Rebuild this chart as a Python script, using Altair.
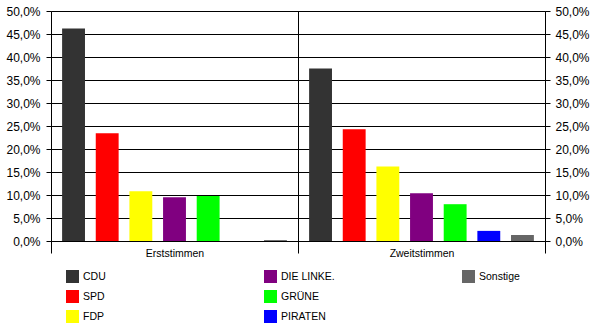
import altair as alt
import pandas as pd

groups = ["Erststimmen", "Zweitstimmen"]
parties = ["CDU", "SPD", "FDP", "DIE LINKE.", "GRÜNE", "PIRATEN", "Sonstige"]
party_colors = ["#333333", "#ff0000", "#ffff00", "#800080", "#00ff00", "#0000ff", "#666666"]
erststimmen = [46.2, 23.4, 10.8, 9.5, 9.8, None, 0.2]
zweitstimmen = [37.5, 24.3, 16.2, 10.4, 8.0, 2.2, 1.3]
y_ticks = [0, 5, 10, 15, 20, 25, 30, 35, 40, 45, 50]

# a blank legend slot completes the 3x3 grid so entries fill column by column
legend_domain = parties + [" "]
legend_colors = party_colors + ["#ffffff"]

rows = []
for g, vals in zip(groups, [erststimmen, zweitstimmen]):
    for p, v in zip(parties, vals):
        if v is not None:
            rows.append({"group": g, "party": p, "value": v})
df = pd.DataFrame(rows)

FONT = "Liberation Sans"
label_expr = "replace(format(datum.value, '.1f'), '.', ',') + '%'"

x_enc = alt.X(
    "group:N",
    scale=alt.Scale(domain=groups, paddingInner=0, paddingOuter=0),
    axis=alt.Axis(
        title=None, tickBand="extent", grid=True, gridColor="black", gridOpacity=1,
        tickSize=12, tickColor="black", domainColor="black", labelAngle=0,
        labelPadding=-5, labelFontSize=10.5, labelFont=FONT, labelColor="black",
    ),
)
xoff = alt.XOffset("party:N", scale=alt.Scale(domain=parties, paddingInner=0.32, paddingOuter=0.33))
yscale = alt.Scale(domain=[0, 50], nice=False)

left = alt.Chart(df).mark_bar(strokeWidth=0).encode(
    x=x_enc,
    xOffset=xoff,
    y=alt.Y(
        "value:Q", scale=yscale,
        axis=alt.Axis(
            orient="left", values=y_ticks, labelExpr=label_expr, title=None,
            grid=True, gridColor="black", gridOpacity=1, domainColor="black",
            tickColor="black", tickSize=5, labelPadding=6, labelFont=FONT,
            labelFontSize=12, labelColor="black",
        ),
    ),
    color=alt.Color(
        "party:N",
        scale=alt.Scale(domain=legend_domain, range=legend_colors),
        legend=alt.Legend(
            values=legend_domain,
            orient="none", legendX=15, legendY=259, columns=3, gridAlign="all",
            columnPadding=127, rowPadding=7, symbolType="square", symbolSize=169,
            symbolStrokeWidth=0, symbolOpacity=1, labelFontSize=10.5, labelFont=FONT,
            labelColor="black", labelOffset=4, title=None, padding=0,
        ),
    ),
)

right = alt.Chart(df).mark_bar(opacity=0).encode(
    x=x_enc,
    xOffset=xoff,
    y=alt.Y(
        "value:Q", scale=yscale,
        axis=alt.Axis(
            orient="right", values=y_ticks, labelExpr=label_expr, title=None,
            grid=False, domainColor="black", tickColor="black", tickSize=5,
            labelPadding=5, labelFont=FONT, labelFontSize=12, labelColor="black",
        ),
    ),
)

chart = (
    alt.layer(left, right)
    .resolve_axis(y="independent")
    .properties(
        width=494, height=230,
        autosize=alt.AutoSizeParams(type="none"),
        padding={"left": 51, "top": 11, "right": 55, "bottom": 92},
        background="white",
    )
    .configure_view(stroke=None)
)

chart.save("out.html", embed_options={"renderer": "svg", "actions": False})
